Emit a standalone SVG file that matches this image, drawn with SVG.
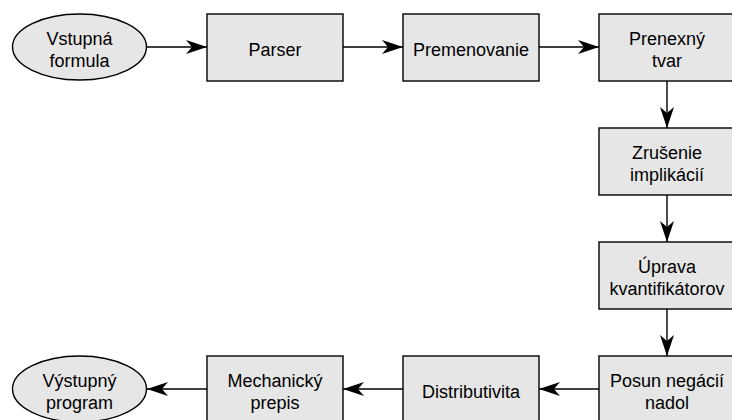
<svg xmlns="http://www.w3.org/2000/svg" width="732" height="420" viewBox="0 0 732 420">
<style>
.n{fill:#e6e6e6;stroke:#000;stroke-width:1.4}
.t{font-family:"Liberation Sans",Arial,sans-serif;font-size:18px;fill:#000;text-anchor:middle}
.c{fill:none;stroke:#000;stroke-width:1.4}
</style>
<defs>
<marker id="a" markerUnits="userSpaceOnUse" viewBox="0 0 21 14" refX="21" refY="7" markerWidth="21" markerHeight="14" orient="auto">
<path d="M0,0 L21,7 L0,14 L6,7 Z" fill="#000"/>
</marker>
</defs>
<rect width="732" height="420" fill="#fff"/>
<g id="connectors">
<path class="c" d="M147,47 H207" marker-end="url(#a)"/>
<path class="c" d="M343,47 H403" marker-end="url(#a)"/>
<path class="c" d="M539,47 H599" marker-end="url(#a)"/>
<path class="c" d="M667,81 V128" marker-end="url(#a)"/>
<path class="c" d="M667,195 V242" marker-end="url(#a)"/>
<path class="c" d="M667,309 V356" marker-end="url(#a)"/>
<path class="c" d="M599,389 H539" marker-end="url(#a)"/>
<path class="c" d="M403,389 H343" marker-end="url(#a)"/>
<path class="c" d="M207,389 H147" marker-end="url(#a)"/>
</g>
<g id="vstup">
<ellipse class="n" cx="79.5" cy="47" rx="67" ry="33"/>
<text class="t" x="79.5" y="44.5">Vstupná</text>
<text class="t" x="79.5" y="66.5">formula</text>
</g>
<g id="parser">
<rect class="n" x="207" y="14" width="136" height="67"/>
<text class="t" x="275" y="55.5">Parser</text>
</g>
<g id="premenovanie">
<rect class="n" x="403" y="14" width="136" height="67"/>
<text class="t" x="471" y="55.5">Premenovanie</text>
</g>
<g id="prenexny">
<rect class="n" x="599" y="14" width="136" height="67"/>
<text class="t" x="667" y="44.5">Prenexný</text>
<text class="t" x="667" y="67">tvar</text>
</g>
<g id="zrusenie">
<rect class="n" x="599" y="128" width="136" height="67"/>
<text class="t" x="667" y="158.5">Zrušenie</text>
<text class="t" x="667" y="181">implikácií</text>
</g>
<g id="uprava">
<rect class="n" x="599" y="242" width="136" height="67"/>
<text class="t" x="667" y="272.5">Úprava</text>
<text class="t" x="667" y="295">kvantifikátorov</text>
</g>
<g id="posun">
<rect class="n" x="599" y="356" width="136" height="67"/>
<text class="t" x="667" y="386.5">Posun negácií</text>
<text class="t" x="667" y="409">nadol</text>
</g>
<g id="distributivita">
<rect class="n" x="403" y="356" width="136" height="67"/>
<text class="t" x="471" y="397.5">Distributivita</text>
</g>
<g id="mechanicky">
<rect class="n" x="207" y="356" width="136" height="67"/>
<text class="t" x="275" y="386.5">Mechanický</text>
<text class="t" x="275" y="409">prepis</text>
</g>
<g id="vystup">
<ellipse class="n" cx="79.5" cy="389" rx="67" ry="33"/>
<text class="t" x="79.5" y="386.5">Výstupný</text>
<text class="t" x="79.5" y="408.5">program</text>
</g>
</svg>
